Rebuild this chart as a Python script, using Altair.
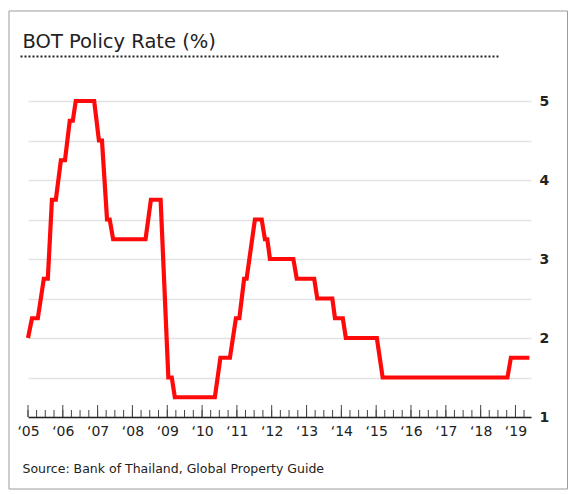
import altair as alt
import pandas as pd

# ---- data ----
dates = ["2005-01-01", "2005-02-12", "2005-04-14", "2005-06-16", "2005-07-28",
         "2005-09-09", "2005-10-20", "2005-12-12", "2006-01-24", "2006-03-15",
         "2006-04-16", "2006-05-17", "2006-11-26", "2007-01-15", "2007-02-16",
         "2007-04-10", "2007-05-08", "2007-06-13", "2008-05-18", "2008-07-13",
         "2008-10-23", "2009-01-12", "2009-02-17", "2009-03-21", "2010-05-15",
         "2010-07-12", "2010-10-20", "2010-12-22", "2011-01-27", "2011-03-18",
         "2011-04-13", "2011-07-09", "2011-09-18", "2011-10-22", "2011-11-16",
         "2011-12-14", "2012-08-15", "2012-09-20", "2013-03-22", "2013-04-23",
         "2013-09-28", "2013-10-26", "2014-01-16", "2014-02-17", "2015-01-08",
         "2015-03-10", "2018-10-09", "2018-11-14", "2019-05-27"]
rates = [2.0, 2.25, 2.25, 2.75, 2.75, 3.75, 3.75, 4.25, 4.25, 4.75,
         4.75, 5.0, 5.0, 4.5, 4.5, 3.5, 3.5, 3.25, 3.25, 3.75,
         3.75, 1.5, 1.5, 1.25, 1.25, 1.75, 1.75, 2.25, 2.25, 2.75,
         2.75, 3.5, 3.5, 3.25, 3.25, 3.0, 3.0, 2.75, 2.75, 2.5,
         2.5, 2.25, 2.25, 2.0, 2.0, 1.5, 1.5, 1.75, 1.75]

tick_years = list(range(2005, 2020))
quarter_months = ["01", "04", "07", "10"]
y_tick_values = [1, 1.5, 2, 2.5, 3, 3.5, 4, 4.5, 5]

title_text = "BOT Policy Rate (%)"
source_text = "Source: Bank of Thailand, Global Property Guide"

df = pd.DataFrame({"date": dates, "rate": rates})

W, H = 503, 316
FONT = "DejaVu Sans"
INK = "#222222"


def dt(y, m, d=1):
    return alt.DateTime(year=y, month=m, date=d, utc=True)


year_tick_dates = [f"{y}-01-01" for y in tick_years]
quarter_tick_dates = [f"{y}-{m}-01" for y in tick_years for m in quarter_months
                      if f"{y}-{m}" <= "2019-04"]

xscale = alt.Scale(type="utc", domain=[dt(2005, 1, 1), dt(2019, 6, 13)])
yscale = alt.Scale(domain=[1, 5])

main_x_axis = alt.Axis(values=[dt(y, 1) for y in tick_years],
                       labelExpr="'\u2018' + utcFormat(datum.value, '%y')",
                       orient="bottom",
                       ticks=False, tickSize=0, domain=True, domainColor=INK,
                       domainWidth=1.5, labelFont=FONT, labelFontSize=14,
                       labelColor=INK, labelPadding=7, grid=False, title=None,
                       labelFlush=False, labelOverlap=False)

y_axis = alt.Axis(orient="right", values=y_tick_values,
                  labelExpr="datum.value % 1 === 0 ? toString(datum.value) : ''",
                  ticks=False, domain=False, grid=True, gridColor="#e2e2e2",
                  gridWidth=1.5, labelFont=FONT, labelFontSize=14,
                  labelFontWeight="bold", labelColor=INK, labelPadding=8,
                  title=None)

line = alt.Chart(df).mark_line(color="#ff0a0a", strokeWidth=4.2, strokeJoin="miter").encode(
    x=alt.X("date:T", scale=xscale, axis=main_x_axis),
    y=alt.Y("rate:Q", scale=yscale, axis=y_axis),
)


def tick_layer(values, size):
    return alt.Chart(pd.DataFrame({"t": values})).mark_rule(
        color="#444444", strokeWidth=1
    ).encode(
        x=alt.X("t:T", scale=xscale, axis=main_x_axis),
        y=alt.value(H),
        y2=alt.value(H - size),
    )


q_ticks = tick_layer(quarter_tick_dates, 7)
y_ticks = tick_layer(year_tick_dates, 12)

one = pd.DataFrame({"k": [0]})

frame = alt.Chart(one).mark_rect(fillOpacity=0, stroke="#9b9b9b", strokeWidth=1).encode(
    x=alt.value(-19), x2=alt.value(W + 36.5), y=alt.value(-90), y2=alt.value(H + 72)
)

dots = alt.Chart(one).mark_rule(color=INK, strokeWidth=2, strokeDash=[2, 2]).encode(
    x=alt.value(-7.5), x2=alt.value(470.5), y=alt.value(-44.5)
)

title = alt.Chart(pd.DataFrame({"t": [title_text]})).mark_text(
    align="left", baseline="alphabetic", font=FONT, fontSize=19.5, color=INK
).encode(x=alt.value(-5.5), y=alt.value(-53.5), text="t:N")

source = alt.Chart(pd.DataFrame({"t": [source_text]})).mark_text(
    align="left", baseline="alphabetic", font=FONT, fontSize=12.5, color=INK
).encode(x=alt.value(-5.5), y=alt.value(371.5), text="t:N")

chart = alt.layer(frame, dots, title, source, q_ticks, y_ticks, line).properties(
    width=W, height=H, padding={"left": 0, "top": 2, "right": 0, "bottom": 0}
).configure_view(stroke="transparent")

chart.save("out.html", embed_options={"renderer": "svg", "actions": False})
